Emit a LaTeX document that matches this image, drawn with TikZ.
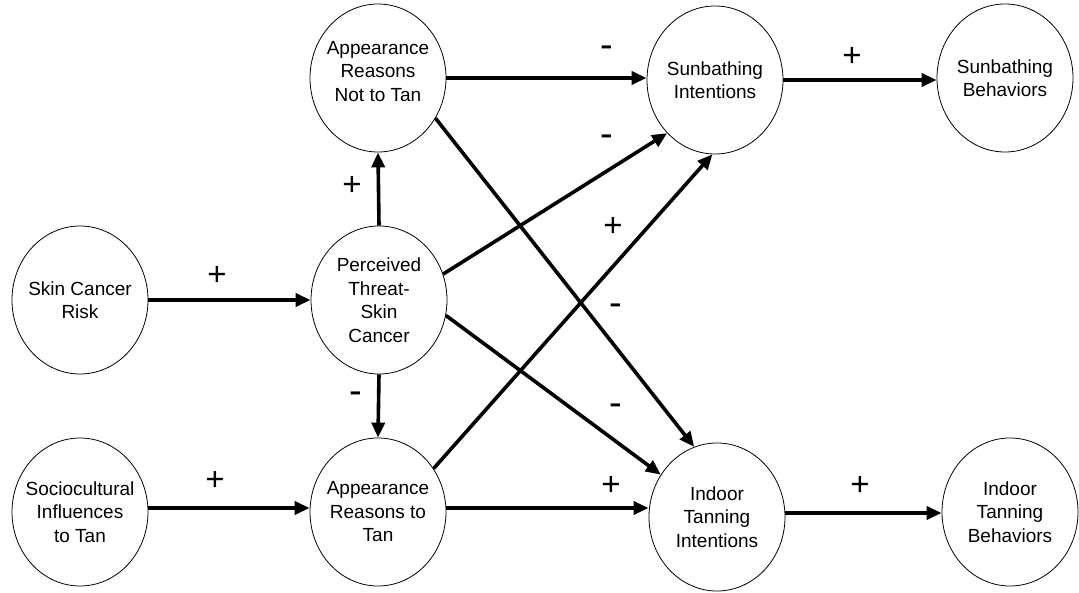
\documentclass[tikz,border=0pt]{standalone}
\usepackage{fontspec}
\setmainfont{Liberation Sans}
\usetikzlibrary{shapes.geometric,arrows.meta}

\tikzset{
  factor/.style={ellipse, draw=black, line width=0.8pt, fill=white,
    minimum width=136pt, minimum height=148pt,
    inner xsep=-20pt, inner ysep=0pt, align=center,
    font=\fontsize{19}{23.5}\selectfont},
  path/.style={line width=3.6pt, -{Triangle[length=15pt,width=13pt]}},
  sign/.style={inner sep=0pt, font=\fontsize{33}{33}\selectfont},
  minus/.style={inner sep=0pt, font=\fontsize{38}{38}\selectfont}
}

\begin{document}
\begin{tikzpicture}[x=1pt,y=-1pt]
\useasboundingbox (0,0) rectangle (1079,593);

% constructs
\node[factor] (ant) at (378,78)  {Appearance\\Reasons\\Not to Tan\\[-10pt]};
\node[factor] (si)  at (715,80)  {Sunbathing\\Intentions};
\node[factor] (sb)  at (1005,78) {Sunbathing\\Behaviors};
\node[factor] (scr) at (80,300)  {Skin Cancer\\Risk};
\node[factor] (pt)  at (379,300) {Perceived\\Threat-\\Skin\\Cancer};
\node[factor] (soc) at (80,512)  {Sociocultural\\Influences\\to Tan};
\node[factor] (art) at (378,512) {Appearance\\Reasons to\\Tan};
\node[factor] (iti) at (717,517) {Indoor\\Tanning\\Intentions};
\node[factor] (itb) at (1010,512){Indoor\\Tanning\\Behaviors};

% horizontal paths
\draw[path] (ant.east) -- (ant.east -| si.west);
\draw[path] (si.east) -- (si.east -| sb.west);
\draw[path] (scr.east) -- (scr.east -| pt.west);
\draw[path] ([yshift=4pt]soc.east) -- ([yshift=4pt]soc.east -| art.west);
\draw[path] ([yshift=4pt]art.east) -- ([yshift=4pt]art.east -| iti.west);
\draw[path] ([yshift=4pt]iti.east) -- ([yshift=4pt]iti.east -| itb.west);

% vertical paths
\draw[path] (pt.north) -- (ant.south);
\draw[path] (pt.south) -- (art.north);

% crossing paths
\draw[path] (pt.22) -- (si.228);
\draw[path] (art.38) -- (si.268);
\draw[path] (ant.-35) -- (iti.108);
\draw[path] (pt.-13) -- (iti.143);

% signs
\node[minus] (s1)  at (607,52)  {-};
\node[sign]  (s2)  at (852,57)  {+};
\node[sign]  (s3)  at (217,276) {+};
\node[sign]  (s4)  at (352,186) {+};
\node[minus] (s5)  at (356,398) {-};
\node[sign]  (s6)  at (215,481) {+};
\node[sign]  (s7)  at (611,486) {+};
\node[sign]  (s8)  at (860,486) {+};
\node[minus] (s9)  at (607,141) {-};
\node[sign]  (s10) at (613,227) {+};
\node[minus] (s11) at (616,310) {-};
\node[minus] (s12) at (616,410) {-};
\end{tikzpicture}
\end{document}
